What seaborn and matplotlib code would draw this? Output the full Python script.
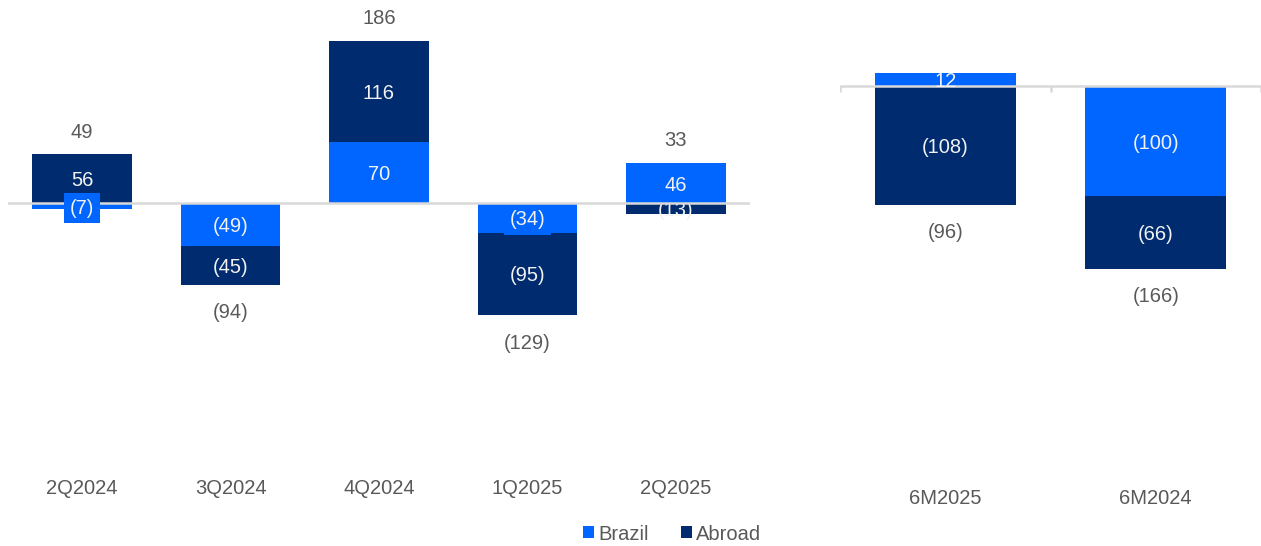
import numpy as np
import pandas as pd
import matplotlib
matplotlib.use("Agg")
import matplotlib.pyplot as plt
import seaborn as sns
from matplotlib.patches import Patch

# ---- data ----
q_labels = ["2Q2024", "3Q2024", "4Q2024", "1Q2025", "2Q2025"]
q_brazil = [-7, -49, 70, -34, 46]
q_abroad = [56, -45, 116, -95, -13]
q_total = [49, -94, 186, -129, 33]

h_labels = ["6M2025", "6M2024"]
h_brazil = [12, -100]
h_abroad = [-108, -66]
h_total = [-96, -166]

series_names = ["Brazil", "Abroad"]

C_BRAZIL = "#0066FF"
C_ABROAD = "#002B6E"
C_GRAY = "#595959"
C_LINE = "#D9D9D9"
C_INNER = "#F2F2F2"
FS = 14.5

sns.set_theme(style="white")
plt.rcParams["font.family"] = ["Liberation Sans", "DejaVu Sans"]

W, H = 1261, 546
fig = plt.figure(figsize=(W / 100, H / 100), dpi=100)


def fmt(v):
    return f"({abs(v)})" if v < 0 else f"{v}"


def panel(ax, labels, brazil, abroad, total, ylim, pad, boxed, ticks):
    df = pd.DataFrame({"cat": labels, "brazil": brazil, "abroad": abroad})
    same = np.sign(df["brazil"]) == np.sign(df["abroad"])
    df["abroad_bottom"] = np.where(same, df["brazil"], 0)
    df["abroad_end"] = df["abroad_bottom"] + df["abroad"]
    sns.barplot(data=df, x="cat", y="abroad_end", color=C_ABROAD, width=0.67,
                saturation=1, ax=ax, zorder=2, linewidth=0)
    sns.barplot(data=df, x="cat", y="brazil", color=C_BRAZIL, width=0.67,
                saturation=1, ax=ax, zorder=3, linewidth=0)
    ax.axhline(0, color=C_LINE, lw=1.8, zorder=4)
    if ticks:
        n = len(labels)
        ax.vlines(np.arange(n + 1) - 0.5, 0, -(ylim[1] - ylim[0]) * 0.013,
                  color=C_LINE, lw=1.8, zorder=4)
    for i in range(len(labels)):
        b = df["brazil"][i]
        a = df["abroad"][i]
        ab = df["abroad_bottom"][i]
        kw = {}
        if boxed:
            kw["bbox"] = dict(facecolor=C_BRAZIL, edgecolor="none", pad=4)
        ax.annotate(fmt(b), (i, b / 2), xytext=(0, -1.5), textcoords="offset points",
                    ha="center", va="center", color=C_INNER,
                    fontsize=FS, zorder=5, **kw)
        hidden = a * b < 0 and abs(a) < 20
        ax.annotate(fmt(a), (i, ab + a / 2), xytext=(0, -1.5), textcoords="offset points",
                    ha="center", va="center", color=C_INNER,
                    fontsize=FS, zorder=2.5 if hidden else 5)
        t = total[i]
        top = max(0, b) + max(0, a)
        bot = min(0, b) + min(0, a)
        if t >= 0:
            ax.annotate(fmt(t), (i, top), xytext=(0, 16), textcoords="offset points",
                        ha="center", va="center", color=C_GRAY, fontsize=FS)
        else:
            ax.annotate(fmt(t), (i, bot), xytext=(0, -20), textcoords="offset points",
                        ha="center", va="center", color=C_GRAY, fontsize=FS)
    ax.set_ylim(*ylim)
    ax.set_xlim(-0.5, len(labels) - 0.5)
    ax.set_xlabel("")
    ax.set_ylabel("")
    ax.set_yticks([])
    for s in ax.spines.values():
        s.set_visible(False)
    ax.tick_params(axis="x", length=0, pad=pad, labelsize=FS, labelcolor=C_GRAY)


top_px, bot_px = 10, 470
# left panel: zero at y=203 px, 0.87 px/unit
axL = fig.add_axes([8 / W, 1 - bot_px / H, 742 / W, (bot_px - top_px) / H])
sL = 0.87
panel(axL, q_labels, q_brazil, q_abroad, q_total,
      (-(bot_px - 203) / sL, (203 - top_px) / sL), pad=6.5, boxed=True, ticks=False)

# right panel: zero at y=86 px, 1.1 px/unit
axR = fig.add_axes([840 / W, 1 - bot_px / H, 421 / W, (bot_px - top_px) / H])
sR = 1.1
panel(axR, h_labels, h_brazil, h_abroad, h_total,
      (-(bot_px - 86) / sR, (86 - top_px) / sR), pad=13.5, boxed=False, ticks=True)

handles = [Patch(facecolor=C_BRAZIL, edgecolor="none"),
           Patch(facecolor=C_ABROAD, edgecolor="none")]
fig.legend(handles, series_names, loc="center", bbox_to_anchor=(672 / W, 1 - 534 / H),
           ncol=2, frameon=False, fontsize=FS, labelcolor=C_GRAY,
           handlelength=0.55, handleheight=0.55, handletextpad=0.2, columnspacing=1.6)

fig.savefig("out.png", dpi=100)
